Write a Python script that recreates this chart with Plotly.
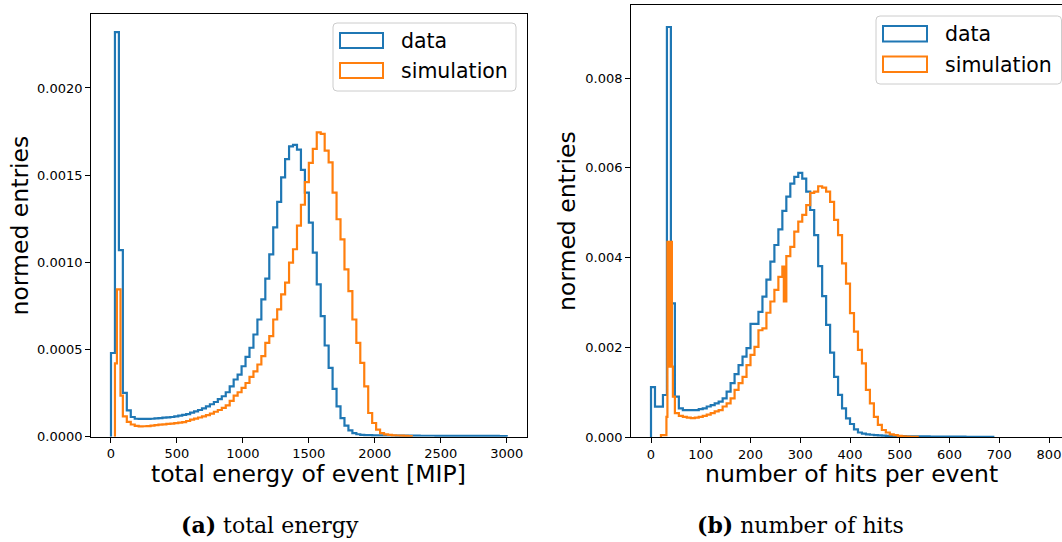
import plotly.graph_objects as go

W, H = 1062, 542

# ---------------- data: total energy (left) ----------------
energy_bin_width = 30
data_energy = [
    0.00048, 0.00232, 0.00107, 0.000251, 0.000151, 0.000113,
    0.000103, 0.000102, 0.000102, 0.000102, 0.000103, 0.000105, 0.000107, 0.000109, 0.000111, 0.000113,
    0.000117, 0.000121, 0.000125, 0.00013, 0.000138, 0.000145, 0.000153, 0.000163, 0.000174, 0.000186,
    0.000199, 0.000215, 0.000232, 0.000255,
    0.000289, 0.000328, 0.000356, 0.000404, 0.000458, 0.00051, 0.000586, 0.000672, 0.000787, 0.000906,
    0.001046, 0.0012, 0.001347, 0.001487, 0.001592, 0.001665, 0.001674, 0.001646, 0.00153, 0.0014,
    0.001228, 0.001056, 0.000874, 0.000692, 0.000523, 0.000395, 0.000274, 0.000174, 0.000107, 0.000063,
    0.000036, 0.000021, 0.000014, 0.00001, 0.000009, 0.0000085, 0.000008, 0.000008, 0.0000075, 0.0000075,
    0.000007, 0.000007, 0.0000065, 0.0000065, 0.000006, 0.000006, 0.000006, 0.000006, 0.0000055, 0.0000055,
    0.0000055, 0.0000055, 0.000005, 0.000005, 0.000005, 0.000005, 0.000005, 0.000005, 0.0000048, 0.0000048,
    0.0000046, 0.0000046, 0.0000045, 0.0000045, 0.0000044, 0.0000044, 0.0000042, 0.0000042, 0.000004, 0.000004,
]
sim_energy_head_edges = [30, 45, 72, 90]
sim_energy_head = [0.00042, 0.000845, 0.000235]
sim_energy_main_start = 90
sim_energy_main = [
    0.000117, 0.000085, 0.00007,
    0.000062, 0.000059, 0.00006, 0.000061, 0.000063, 0.000066, 0.000069, 0.000071, 0.000073, 0.000075,
    0.000078, 0.000081, 0.000084, 0.00009, 0.000098, 0.000104, 0.00011, 0.000117, 0.000124, 0.000132,
    0.000143, 0.000153, 0.000165, 0.00018,
    0.000205, 0.000235, 0.000255, 0.00028, 0.000308, 0.000343, 0.000375, 0.000414, 0.000462, 0.000538,
    0.000577, 0.000672, 0.00073, 0.000816, 0.000883, 0.000998, 0.001075, 0.00121, 0.00133, 0.00146,
    0.00157, 0.00165, 0.001745, 0.001736, 0.00164, 0.001573, 0.0014, 0.001247, 0.001132, 0.00096,
    0.000835, 0.000672, 0.000538, 0.000423, 0.000289, 0.000136, 0.0000785, 0.00004, 0.000021, 0.000013,
    0.00001, 0.000008, 0.000007, 0.000006, 0.000005, 0.000004,
]

# ---------------- data: number of hits (right) ----------------
hits_bin_width = 8
data_hits = [
    0.00111, 0.000675, 0.000675, 0.000936, 0.00914, 0.00298, 0.0009, 0.00064, 0.0006, 0.0006,
    0.0006, 0.0006, 0.00062, 0.00064, 0.00068, 0.00071, 0.00075, 0.000787, 0.000862, 0.00101,
    0.0012, 0.0014, 0.0016, 0.00179, 0.00198, 0.00252, 0.00252, 0.00279, 0.00313, 0.00351,
    0.00391, 0.00428, 0.00463, 0.00504, 0.00536, 0.00565, 0.0058, 0.00589, 0.00576, 0.00547,
    0.00506, 0.0045, 0.00381, 0.00314, 0.0025, 0.00188, 0.00134, 0.00094, 0.00064, 0.000416,
    0.00029, 0.00017, 0.0001, 0.000074, 0.00006, 0.00005, 0.000042, 0.000036, 0.00003, 0.000027,
    0.000024, 0.000022, 0.00002, 0.000018, 0.000017, 0.000016, 0.000015, 0.000014, 0.000013, 0.000012,
    0.000011, 0.00001, 0.00001, 0.000009, 0.000009, 0.000008, 0.000008, 0.000007, 0.000007, 0.000006,
    0.000006, 0.000005, 0.000005, 0.000004, 0.000004, 0.000003,
]
sim_hits_head_edges = [20, 31, 33, 35, 36.5, 38.5, 40.5, 42, 44, 48, 56, 64]
sim_hits_head = [0.00004, 0.00045, 0.00435, 0.00157, 0.00435, 0.00157, 0.00435, 0.00157, 0.0009, 0.00053, 0.00047]
sim_hits_mid = [
    0.00045, 0.00043, 0.00042, 0.00043, 0.00045, 0.00047, 0.0005, 0.00053, 0.00057, 0.0006,
    0.00068, 0.00075, 0.00086, 0.00105, 0.0012, 0.00134, 0.0016, 0.00183, 0.00201, 0.00238,
    0.00242, 0.00277, 0.00302, 0.00328, 0.00357,
]
sim_hits_dip_edges = [264, 267, 268.5, 270, 272]
sim_hits_dip = [0.0038, 0.00302, 0.0038, 0.00302]
sim_hits_tail = [
    0.00403, 0.00424, 0.00458, 0.0048, 0.00495, 0.00517, 0.00544, 0.00547, 0.00559, 0.00556,
    0.00547, 0.00524, 0.00484, 0.0045, 0.00387, 0.00342, 0.00276, 0.00235, 0.00194, 0.00164,
    0.00105, 0.00075, 0.00045, 0.00027, 0.000156, 0.0001, 0.00006, 0.00004, 0.000025, 0.000015,
    0.00001, 0.000006, 0.000004,
]

energy_ticks = [0, 500, 1000, 1500, 2000, 2500, 3000]
energy_yticks = [0, 0.0005, 0.0010, 0.0015, 0.0020]
energy_yticktext = ["0.0000", "0.0005", "0.0010", "0.0015", "0.0020"]
hits_ticks = [0, 100, 200, 300, 400, 500, 600, 700, 800]
hits_yticks = [0, 0.002, 0.004, 0.006, 0.008]
hits_yticktext = ["0.000", "0.002", "0.004", "0.006", "0.008"]

BLUE = "#1f77b4"
ORANGE = "#ff7f0e"


def regular_edges(start, width, n):
    return [start + width * k for k in range(n + 1)]


def step_xy(edges, values):
    xs, ys = [edges[0]], [0.0]
    for e, v in zip(edges[:-1], values):
        xs.append(e)
        ys.append(v)
    xs.append(edges[len(values)])
    ys.append(0.0)
    return xs, ys


# build edges
data_energy_edges = regular_edges(0, energy_bin_width, len(data_energy))
sim_energy_edges = sim_energy_head_edges[:-1] + regular_edges(sim_energy_main_start, energy_bin_width, len(sim_energy_main))
sim_energy_vals = sim_energy_head + sim_energy_main

data_hits_edges = regular_edges(0, hits_bin_width, len(data_hits))
mid_edges = regular_edges(sim_hits_head_edges[-1], hits_bin_width, len(sim_hits_mid))
tail_edges = regular_edges(sim_hits_dip_edges[-1], hits_bin_width, len(sim_hits_tail))
sim_hits_edges = sim_hits_head_edges[:-1] + mid_edges[:-1] + sim_hits_dip_edges[:-1] + tail_edges
sim_hits_vals = sim_hits_head + sim_hits_mid + sim_hits_dip + sim_hits_tail

fig = go.Figure()
for edges, vals, col, xa, ya in [
    (data_energy_edges, data_energy, BLUE, "x", "y"),
    (sim_energy_edges, sim_energy_vals, ORANGE, "x", "y"),
    (data_hits_edges, data_hits, BLUE, "x2", "y2"),
    (sim_hits_edges, sim_hits_vals, ORANGE, "x2", "y2"),
]:
    xs, ys = step_xy(edges, vals)
    fig.add_trace(go.Scatter(x=xs, y=ys, mode="lines", line=dict(color=col, width=2.2, shape="hv"),
                             xaxis=xa, yaxis=ya, showlegend=False, hoverinfo="skip"))

tickfont = dict(family="DejaVu Sans", size=13, color="black")
axis_common = dict(showline=True, linecolor="black", linewidth=1, ticks="outside", ticklen=5,
                   tickwidth=1, tickcolor="black", showgrid=False, zeroline=False,
                   tickfont=tickfont, automargin=False, fixedrange=True)

fig.update_layout(
    width=W, height=H, margin=dict(l=0, r=0, t=0, b=0),
    paper_bgcolor="white", plot_bgcolor="white", showlegend=False,
    xaxis=dict(domain=[91.2 / W, 526.5 / W], range=[-150, 3150], tickvals=energy_ticks,
               mirror=True, anchor="y", **axis_common),
    yaxis=dict(domain=[1 - 436.7 / H, 1 - 14 / H], range=[0, 0.002424], tickvals=energy_yticks,
               ticktext=energy_yticktext, mirror=True, anchor="x", **axis_common),
    xaxis2=dict(domain=[631.1 / W, 1.0], range=[-40, 826.1], tickvals=hits_ticks,
                mirror=True, anchor="y2", **axis_common),
    yaxis2=dict(domain=[1 - 437 / H, 1 - 5 / H], range=[0, 0.00963], tickvals=hits_yticks,
                ticktext=hits_yticktext, mirror=False, anchor="x2", **axis_common),
)


def px(x):
    return x / W


def py(y):
    return 1 - y / H


annotations = []
title_font = dict(family="DejaVu Sans", size=23.5, color="black")
annotations.append(dict(text="total energy of event [MIP]", x=px(308.5), y=py(474), xref="paper", yref="paper",
                        xanchor="center", yanchor="middle", showarrow=False, font=title_font))
annotations.append(dict(text="number of hits per event", x=px(851.5), y=py(474), xref="paper", yref="paper",
                        xanchor="center", yanchor="middle", showarrow=False, font=title_font))
annotations.append(dict(text="normed entries", x=px(20), y=py(225.4), xref="paper", yref="paper",
                        xanchor="center", yanchor="middle", showarrow=False, font=title_font, textangle=-90))
annotations.append(dict(text="normed entries", x=px(567), y=py(221), xref="paper", yref="paper",
                        xanchor="center", yanchor="middle", showarrow=False, font=title_font, textangle=-90))

cap_font = dict(family="DejaVu Serif", size=22, color="black")
annotations.append(dict(text="<b>(a)</b> total energy", x=px(270), y=py(525), xref="paper", yref="paper",
                        xanchor="center", yanchor="middle", showarrow=False, font=cap_font))
annotations.append(dict(text="<b>(b)</b> number of hits", x=px(800.5), y=py(525), xref="paper", yref="paper",
                        xanchor="center", yanchor="middle", showarrow=False, font=cap_font))


def rounded_rect(x0, y0, x1, y1, r):
    p = []
    p.append(f"M {px(x0 + r)},{py(y0)}")
    p.append(f"L {px(x1 - r)},{py(y0)}")
    p.append(f"Q {px(x1)},{py(y0)} {px(x1)},{py(y0 + r)}")
    p.append(f"L {px(x1)},{py(y1 - r)}")
    p.append(f"Q {px(x1)},{py(y1)} {px(x1 - r)},{py(y1)}")
    p.append(f"L {px(x0 + r)},{py(y1)}")
    p.append(f"Q {px(x0)},{py(y1)} {px(x0)},{py(y1 - r)}")
    p.append(f"L {px(x0)},{py(y0 + r)}")
    p.append(f"Q {px(x0)},{py(y0)} {px(x0 + r)},{py(y0)} Z")
    return " ".join(p)


shapes = []
leg_font = dict(family="DejaVu Sans", size=20.5, color="black")
legends = [
    dict(box=(333, 23, 516, 91), px0=340, px1=383, py_d=(33, 48), py_s=(63, 78), tx=399, ty=(41, 71)),
    dict(box=(876, 16, 1061.5, 84), px0=883, px1=927, py_d=(26, 41.5), py_s=(56.5, 72), tx=943, ty=(34, 64.5)),
]
for lg in legends:
    bx0, by0, bx1, by1 = lg["box"]
    shapes.append(dict(type="path", path=rounded_rect(bx0, by0, bx1, by1, 4), xref="paper", yref="paper",
                       line=dict(color="#cccccc", width=1), fillcolor="rgba(255,255,255,0.8)", layer="above"))
    for (yy0, yy1), col in [(lg["py_d"], BLUE), (lg["py_s"], ORANGE)]:
        shapes.append(dict(type="rect", x0=px(lg["px0"]), x1=px(lg["px1"]), y0=py(yy1), y1=py(yy0),
                           xref="paper", yref="paper", line=dict(color=col, width=2),
                           fillcolor="white", layer="above"))
    for label, ty in zip(["data", "simulation"], lg["ty"]):
        annotations.append(dict(text=label, x=px(lg["tx"]), y=py(ty), xref="paper", yref="paper",
                                xanchor="left", yanchor="middle", showarrow=False, font=leg_font))

fig.update_layout(annotations=annotations, shapes=shapes)
fig.write_html("out.html", config={"displayModeBar": False})
